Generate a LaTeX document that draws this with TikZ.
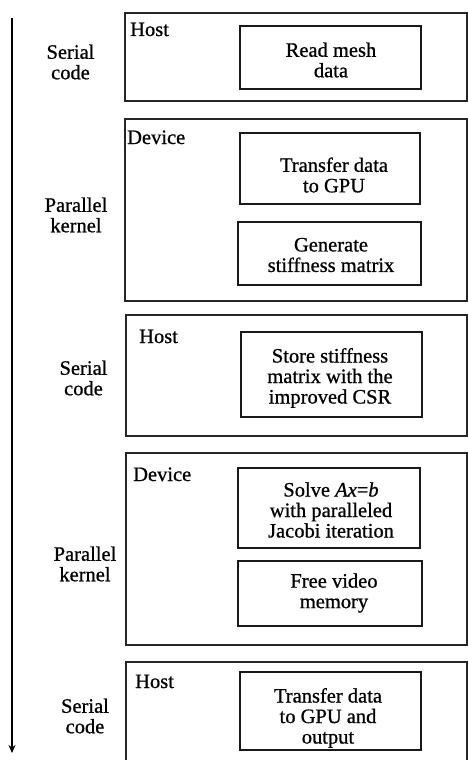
\documentclass[tikz,border=0pt]{standalone}
\usepackage{fontspec}
\setmainfont{Liberation Serif}[FakeBold=0.8]
\usetikzlibrary{arrows.meta}
\tikzset{
  frame/.style={draw=black!85, line width=1.3pt},
  taskbox/.style={draw=black!90, line width=1.6pt, inner sep=0pt},
  txt/.style={align=center, inner sep=0pt, font=\fontsize{20.5}{20.5}\selectfont},
  tag/.style={anchor=base west, inner sep=0pt, font=\fontsize{20.5}{20.5}\selectfont},
  timeline/.style={line width=1.3pt, -{Stealth[length=8pt,width=7pt]}}
}
\begin{document}
\begin{tikzpicture}[x=1pt,y=-1pt]
\useasboundingbox (0,0) rectangle (468,760);
\clip (0,0) rectangle (468,760);

% time axis
\coordinate (top) at (12,18);
\coordinate (bot) at (12,753);
\draw[timeline] (top) -- (bot);

% stage frames
\draw[frame] (125,13) rectangle (467,101);
\draw[frame] (125,119) rectangle (467,301);
\draw[frame] (126,315) rectangle (467,436);
\draw[frame] (126,453) rectangle (467,645);
\draw[frame] (126,662) rectangle (467,780);

% stage kinds
\node[txt] (s1) at (70.5,62) {Serial\\code};
\node[txt] (s2) at (76,215) {Parallel\\kernel};
\node[txt] (s3) at (83.5,378) {Serial\\code};
\node[txt] (s4) at (85,564) {Parallel\\kernel};
\node[txt] (s5) at (85,716) {Serial\\code};

% where each stage runs
\node[tag] (h1) at (130,36) {Host};
\node[tag] (d2) at (127,144) {Device};
\node[tag] (h3) at (139,343) {Host};
\node[tag] (d4) at (133,481) {Device};
\node[tag] (h5) at (135,688) {Host};

% tasks
\node[taskbox, minimum width=181pt, minimum height=63pt] (t1) at (330.5,57.5) {};
\node[txt] (l1) at (331,60) {Read mesh\\data};

\node[taskbox, minimum width=180pt, minimum height=71pt] (t2) at (330,168.5) {};
\node[txt] (l2) at (334,175) {Transfer data\\to GPU};

\node[taskbox, minimum width=183pt, minimum height=63pt] (t3) at (329.5,253.5) {};
\node[txt] (l3) at (331,255) {Generate\\stiffness matrix};

\node[taskbox, minimum width=181pt, minimum height=85pt] (t4) at (331.5,374.5) {};
\node[txt] (l4) at (330,378) {Store stiffness\\matrix with the\\improved CSR};

\node[taskbox, minimum width=182pt, minimum height=80pt] (t5) at (329,508) {};
\node[txt] (l5) at (331,510) {Solve \textit{Ax}=\textit{b}\\with paralleled\\Jacobi iteration};

\node[taskbox, minimum width=184pt, minimum height=65pt] (t6) at (330,593.5) {};
\node[txt] (l6) at (334,593) {Free video\\memory};

\node[taskbox, minimum width=181pt, minimum height=78pt] (t7) at (330.5,711) {};
\node[txt] (l7) at (328,718) {Transfer data\\to GPU and\\output};
\end{tikzpicture}
\end{document}
